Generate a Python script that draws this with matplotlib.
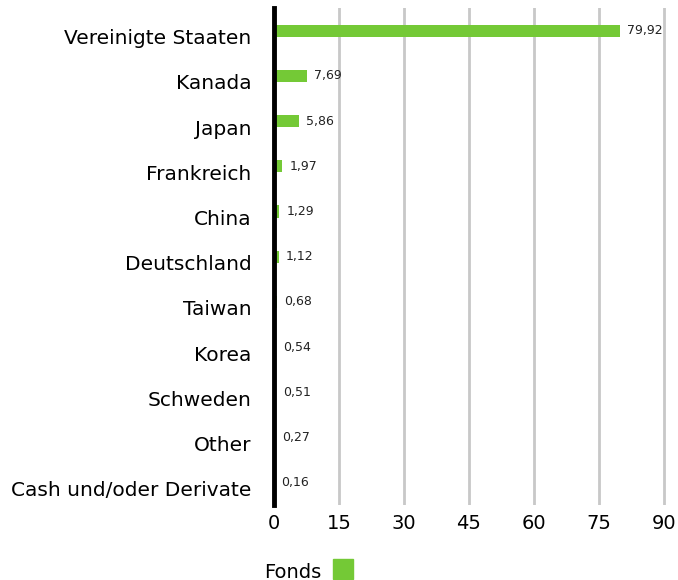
import matplotlib.pyplot as plt
import matplotlib.transforms as mtransforms
from matplotlib.patches import Rectangle

# country weights of the fund, in percent
countries = ['Vereinigte Staaten', 'Kanada', 'Japan', 'Frankreich', 'China',
             'Deutschland', 'Taiwan', 'Korea', 'Schweden', 'Other',
             'Cash und/oder Derivate']
weights = [79.92, 7.69, 5.86, 1.97, 1.29, 1.12, 0.68, 0.54, 0.51, 0.27, 0.16]
xticks = [0, 15, 30, 45, 60, 75, 90]

green = '#74c936'

fig = plt.figure(figsize=(6.78, 5.8), dpi=100)
ax = fig.add_axes([0.404, 0.129, 0.578, 0.857])

pos = list(range(len(countries)))
ax.barh(pos, weights, height=0.27, color=green, zorder=3)

for y, w in zip(pos, weights):
    ax.text(w + 1.6, y, f'{w:.2f}'.replace('.', ','), va='center', ha='left',
            fontsize=9, color='#222222', zorder=4)

ax.set_ylim(len(countries) - 0.5, -0.5)
ax.set_xlim(0, 90.5)
ax.set_yticks(pos)
ax.set_yticklabels(countries, fontsize=14.5)
ax.set_xticks(xticks)
ax.set_xticklabels([str(t) for t in xticks], fontsize=14)
ax.tick_params(length=0, pad=6)
ax.tick_params(axis='y', pad=16)

# category names sit a little below their bars
shift = mtransforms.ScaledTranslation(0, -0.06, fig.dpi_scale_trans)
for lbl in ax.get_yticklabels():
    lbl.set_transform(lbl.get_transform() + shift)

ax.xaxis.grid(True, color='#c8c8c8', linewidth=2)
ax.set_axisbelow(True)
for side in ['top', 'right', 'bottom']:
    ax.spines[side].set_visible(False)
ax.spines['left'].set_linewidth(3.5)
ax.spines['left'].set_color('black')
ax.spines['left'].set_zorder(5)

# legend below the axis
fig.text(264 / 678, 1 - 572 / 580, 'Fonds', fontsize=14, va='center', ha='left')
fig.patches.append(Rectangle((333 / 678, 1 - 579 / 580), 20 / 678, 20 / 580,
                             transform=fig.transFigure, color=green))

plt.savefig('out.png')
